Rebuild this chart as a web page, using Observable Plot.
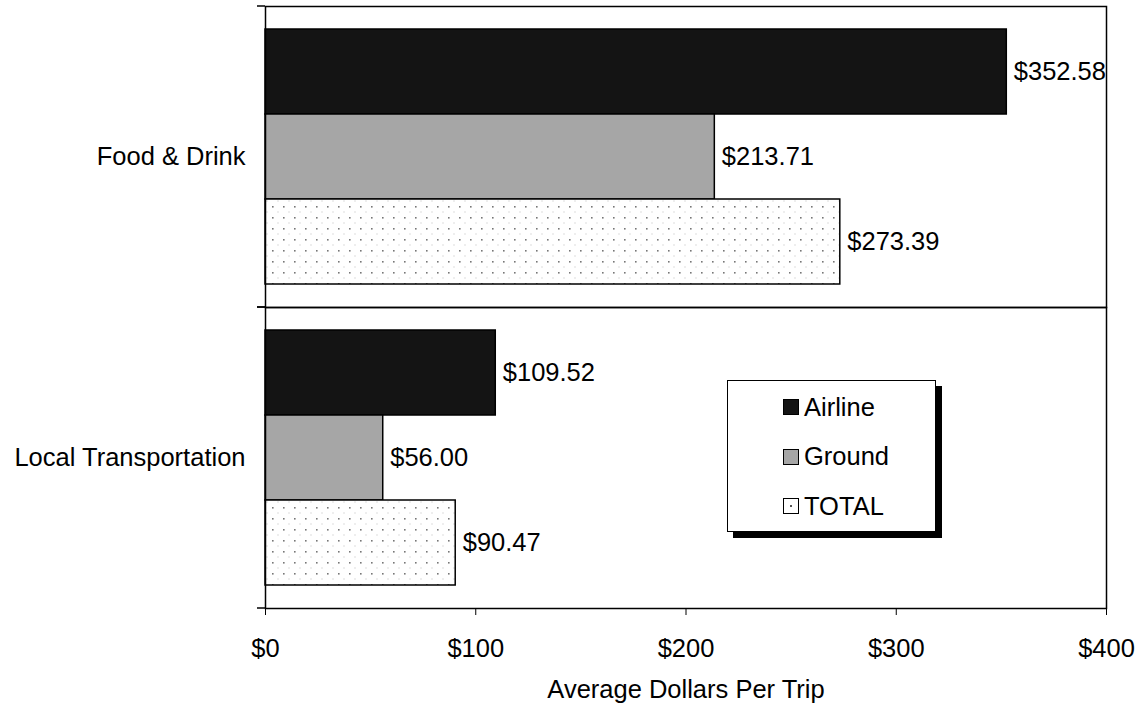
<!DOCTYPE html>
<html>
<head>
<meta charset="utf-8">
<script src="https://cdn.jsdelivr.net/npm/d3@7"></script>
<script src="https://cdn.jsdelivr.net/npm/@observablehq/plot@0.6"></script>
<style>
  html, body { margin: 0; padding: 0; background: #fff; }
  #wrap { position: relative; width: 1146px; height: 708px; font-family: Arial, "Liberation Sans", sans-serif; }
  #legend { position: absolute; left: 727px; top: 380px; width: 207px; height: 150px; background: #fff;
            border: 1.5px solid #000; box-shadow: 6px 6px 0 #000; }
  .item { position: absolute; left: 55px; display: flex; align-items: center; font-size: 25.5px; color: #000; height: 30px; }
  .sw { width: 14px; height: 14px; border: 1.5px solid #000; margin-right: 5px; }
</style>
</head>
<body>
<svg width="0" height="0" style="position:absolute">
  <defs>
    <pattern id="dots" width="11" height="11" patternUnits="userSpaceOnUse">
      <rect width="11" height="11" fill="#fff"/>
      <rect x="8" y="8" width="1.6" height="1.6" fill="#777"/>
      <rect x="2.5" y="2.5" width="1" height="1" fill="#bbb"/>
    </pattern>
  </defs>
</svg>
<div id="wrap"><div id="legend"></div></div>
<script>
const categories = ["Food & Drink", "Local Transportation"];
const series = ["Airline", "Ground", "TOTAL"];
const foodValues = [352.58, 213.71, 273.39];
const localValues = [109.52, 56.00, 90.47];
const xTicks = [0, 100, 200, 300, 400];
const seriesFills = ["#141414", "#a6a6a6", "url(#dots)"];

const valuesByCategory = [foodValues, localValues];
const data = [];
categories.forEach((c, i) => series.forEach((s, j) => data.push({category: c, series: s, value: valuesByCategory[i][j]})));

const fmt = d3.format("$.2f");

// small ticks on the left axis at each facet's top and bottom boundary
function boundaryTicks(index, scales, values, dimensions) {
  const {height, marginTop, marginBottom, marginLeft} = dimensions;
  const g = d3.create("svg:g").attr("stroke", "#000").attr("stroke-width", 1.5);
  [marginTop, height - marginBottom].forEach(y => {
    g.append("line").attr("x1", marginLeft - 8).attr("x2", marginLeft).attr("y1", y).attr("y2", y);
  });
  return g.node();
}

const chart = Plot.plot({
  width: 1146,
  height: 708,
  marginLeft: 265,
  marginRight: 40,
  marginTop: 6,
  marginBottom: 100,
  style: {fontFamily: "Arial, 'Liberation Sans', sans-serif", fontSize: "25.5px", color: "#000", background: "#fff"},
  x: {domain: [0, 400], ticks: xTicks, tickSize: 7, tickPadding: 23, tickFormat: d => "$" + d,
      label: "Average Dollars Per Trip", labelAnchor: "center", labelOffset: 89, labelArrow: "none"},
  y: {domain: series, paddingInner: 0, paddingOuter: 0.256, axis: null},
  fy: {domain: categories, padding: 0, axis: null},
  color: {domain: series, range: seriesFills},
  marks: [
    Plot.barX(data, {fy: "category", y: "series", x: "value", fill: "series", stroke: "#000", strokeWidth: 1.5}),
    Plot.text(data, {fy: "category", y: "series", x: "value", text: d => fmt(d.value), textAnchor: "start", dx: 7, fill: "#000", fontSize: 25.5}),
    Plot.frame({stroke: "#000", strokeWidth: 1.5}),
    Plot.axisFy({anchor: "left", tickSize: 0, tickPadding: 20, label: null, fill: "#000"}),
    boundaryTicks
  ]
});

const wrap = document.getElementById("wrap");
wrap.insertBefore(chart, wrap.firstChild);

const legend = document.getElementById("legend");
series.forEach((s, j) => {
  const item = document.createElement("div");
  item.className = "item";
  item.style.top = (11 + j * 49.5) + "px";
  const sw = document.createElement("div");
  sw.className = "sw";
  if (seriesFills[j].startsWith("url")) {
    sw.style.background = "#fff";
    sw.style.backgroundImage = "radial-gradient(circle, #555 1px, transparent 1.2px)";
    sw.style.backgroundSize = "14px 14px";
    sw.style.backgroundPosition = "center";
  } else {
    sw.style.background = seriesFills[j];
  }
  const label = document.createElement("span");
  label.textContent = s;
  item.appendChild(sw);
  item.appendChild(label);
  legend.appendChild(item);
});
</script>
</body>
</html>
